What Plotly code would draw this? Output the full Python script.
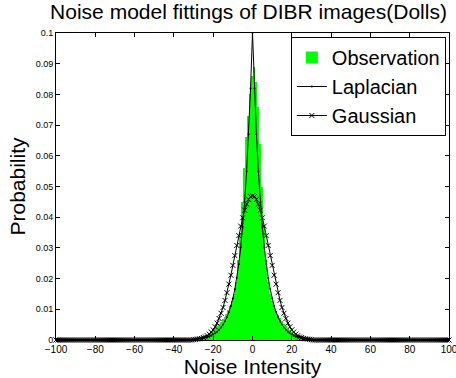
import plotly.graph_objects as go

# Histogram of observed noise (bin centres and probabilities)
obs_x = list(range(-25, 26))
obs_p = [0.0010, 0.0013, 0.0017, 0.0022, 0.0027, 0.0032, 0.0038, 0.0044, 0.0051, 0.0059,
         0.0067, 0.0076, 0.0086, 0.0098, 0.0112, 0.0128, 0.0150, 0.0190, 0.0260, 0.0350,
         0.0450, 0.0560, 0.0660, 0.0730, 0.0800, 0.0860, 0.0890, 0.0840, 0.0760, 0.0640,
         0.0500, 0.0370, 0.0260, 0.0190, 0.0150, 0.0128, 0.0110, 0.0095, 0.0082, 0.0071,
         0.0061, 0.0052, 0.0044, 0.0037, 0.0031, 0.0026, 0.0021, 0.0017, 0.0013, 0.0010,
         0.0008]

# Fitted model curves at integer noise intensities
fit_x = list(range(-100, 101))
lap_core = [0.0002, 0.0003, 0.0004, 0.0005, 0.0006, 0.0007, 0.0008, 0.0010, 0.0012, 0.0015,
            0.0018, 0.0022, 0.0027, 0.0033, 0.0041, 0.0050, 0.0061, 0.0074, 0.0091, 0.0111,
            0.0135, 0.0165, 0.0202, 0.0247, 0.0301, 0.0368, 0.0449, 0.0549, 0.0670, 0.0819,
            0.1000,
            0.0819, 0.0670, 0.0549, 0.0449, 0.0368, 0.0301, 0.0247, 0.0202, 0.0165, 0.0135,
            0.0111, 0.0091, 0.0074, 0.0061, 0.0050, 0.0041, 0.0033, 0.0027, 0.0022, 0.0018,
            0.0015, 0.0012, 0.0010, 0.0008, 0.0007, 0.0006, 0.0005, 0.0004, 0.0003, 0.0002]
gau_core = [0.0001, 0.0002, 0.0003, 0.0004, 0.0005, 0.0008, 0.0010, 0.0014, 0.0019, 0.0026,
            0.0033, 0.0043, 0.0055, 0.0070, 0.0087, 0.0106, 0.0129, 0.0154, 0.0182, 0.0211,
            0.0243, 0.0275, 0.0308, 0.0340, 0.0371, 0.0398, 0.0423, 0.0443, 0.0458, 0.0467,
            0.0470,
            0.0467, 0.0458, 0.0443, 0.0423, 0.0398, 0.0371, 0.0340, 0.0308, 0.0275, 0.0243,
            0.0211, 0.0182, 0.0154, 0.0129, 0.0106, 0.0087, 0.0070, 0.0055, 0.0043, 0.0033,
            0.0026, 0.0019, 0.0014, 0.0010, 0.0008, 0.0005, 0.0004, 0.0003, 0.0002, 0.0001]
tail = [0.0] * 70
lap_p = tail + lap_core + tail
gau_p = tail + gau_core + tail

x_ticks = [-100, -80, -60, -40, -20, 0, 20, 40, 60, 80, 100]
x_tick_text = ["\u2212100", "\u221280", "\u221260", "\u221240", "\u221220", "0", "20", "40", "60", "80", "100"]
y_ticks = [0, 0.01, 0.02, 0.03, 0.04, 0.05, 0.06, 0.07, 0.08, 0.09, 0.1]
y_tick_text = ["0", "0.01", "0.02", "0.03", "0.04", "0.05", "0.06", "0.07", "0.08", "0.09", "0.1"]

FONT = "Liberation Sans, Arial, sans-serif"

fig = go.Figure()
fig.add_trace(go.Bar(x=obs_x, y=obs_p, width=1, name="Observation",
                     marker=dict(color="#00ff00", line=dict(width=0))))
fig.add_trace(go.Scatter(x=fit_x, y=lap_p, name="Laplacian", mode="lines+markers",
                         cliponaxis=False,
                         line=dict(color="black", width=1),
                         marker=dict(symbol="circle", size=2, color="black")))
fig.add_trace(go.Scatter(x=fit_x, y=gau_p, name="Gaussian", mode="lines+markers",
                         cliponaxis=False,
                         line=dict(color="black", width=1),
                         marker=dict(symbol="x-thin", size=5, color="black",
                                     line=dict(width=1, color="black"))))

fig.update_layout(
    width=456, height=378,
    margin=dict(l=56, r=7, t=33, b=38),
    paper_bgcolor="white", plot_bgcolor="white",
    bargap=0,
    showlegend=True,
    font=dict(family=FONT, color="black"),
    title=dict(text="Noise model fittings of DIBR images(Dolls)", x=0.545, xanchor="center",
               y=0.968, yanchor="middle", font=dict(size=21, family=FONT, color="black")),
    legend=dict(x=0.992, xanchor="right", y=0.987, yanchor="top",
                bordercolor="black", borderwidth=1, bgcolor="white",
                font=dict(size=20, family=FONT, color="black"),
                tracegroupgap=0, itemwidth=30),
)
fig.update_xaxes(range=[-100, 100], tickmode="array", tickvals=x_ticks, ticktext=x_tick_text,
                 ticks="inside", ticklen=4, tickcolor="black", mirror="ticks",
                 showline=True, linecolor="black", linewidth=1, showgrid=False, zeroline=False,
                 tickfont=dict(size=10, family=FONT), ticklabeloverflow="allow",
                 automargin="height",
                 title=dict(text="Noise Intensity", font=dict(size=21, family=FONT), standoff=2))
fig.update_yaxes(range=[0, 0.1], tickmode="array", tickvals=y_ticks, ticktext=y_tick_text,
                 ticks="inside", ticklen=4, tickcolor="black", mirror="ticks",
                 showline=True, linecolor="black", linewidth=1, showgrid=False, zeroline=False,
                 tickfont=dict(size=9, family=FONT), ticklabeloverflow="allow",
                 automargin="width",
                 title=dict(text="Probability", font=dict(size=21, family=FONT), standoff=4))

fig.write_html("out.html")
